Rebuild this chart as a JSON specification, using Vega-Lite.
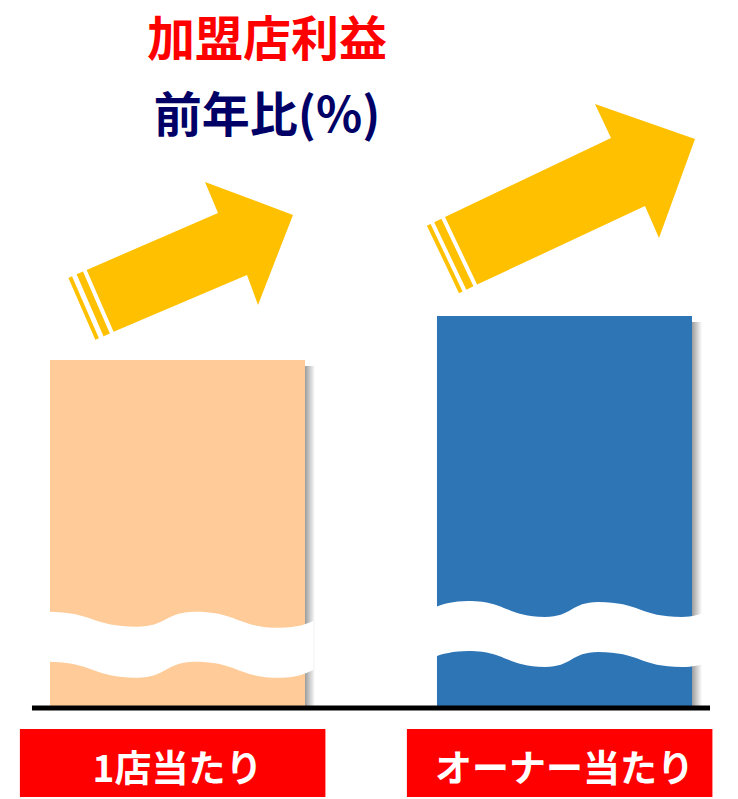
{
  "$schema": "https://vega.github.io/schema/vega-lite/v6.json",
  "width": 738,
  "height": 799,
  "autosize": {"type": "fit", "contains": "padding"},
  "padding": 0,
  "background": "white",
  "config": {"view": {"stroke": null}},
  "data": {"values": [
    {"cat": "1店当たり", "value": 99.3},
    {"cat": "オーナー当たり", "value": 111.8}
  ]},
  "layer": [
    {
      "mark": {"type": "bar", "xOffset": 10, "yOffset": 6,
        "fill": {"gradient": "linear", "x1": 0, "x2": 1, "y1": 0, "y2": 0,
          "stops": [{"offset": 0, "color": "#8a8a8a"}, {"offset": 0.955, "color": "#8e8e8e"}, {"offset": 1, "color": "#ffffff"}]}},
      "encoding": {
        "x": {"field": "cat", "type": "nominal", "sort": null, "axis": null,
          "scale": {"domain": ["1店当たり", "オーナー当たり"], "range": [2, 740], "paddingInner": 0.341, "paddingOuter": 0.124}},
        "y": {"field": "value", "type": "quantitative", "axis": null, "scale": {"domain": [-26, 202], "nice": false, "zero": false}},
        "y2": {"datum": 0}
      }
    },
    {
      "mark": {"type": "bar"},
      "encoding": {
        "x": {"field": "cat", "type": "nominal", "sort": null, "axis": null},
        "y": {"field": "value", "type": "quantitative", "axis": null},
        "y2": {"datum": 0},
        "color": {"field": "cat", "type": "nominal", "legend": null,
          "scale": {"domain": ["1店当たり", "オーナー当たり"], "range": ["#FFCC99", "#2E75B6"]}}
      }
    },
    {
      "transform": [{"filter": "datum.cat === '1店当たり'"}],
      "mark": {"type": "point", "filled": true, "opacity": 1, "color": "#ffffff", "size": 40000,
        "shape": "M-1.3,-0.33C-0.85,-0.33 -0.85,-0.18 -0.405,-0.18C-0.115,-0.18 -0.115,-0.33 0.175,-0.33C0.6,-0.33 0.6,-0.17 1.025,-0.17C1.2,-0.17 1.3,-0.21 1.36,-0.24L1.36,0.25C1.3,0.28 1.2,0.33 1.025,0.33C0.6,0.33 0.6,0.17 0.175,0.17C-0.115,0.17 -0.115,0.33 -0.405,0.33C-0.85,0.33 -0.85,0.17 -1.3,0.17Z"},
      "encoding": {
        "x": {"field": "cat", "type": "nominal", "sort": null, "axis": null},
        "y": {"datum": 18.0}
      }
    },
    {
      "transform": [{"filter": "datum.cat === 'オーナー当たり'"}],
      "mark": {"type": "point", "filled": true, "opacity": 1, "color": "#ffffff", "size": 40000,
        "shape": "M-1.3,-0.32C-1.24,-0.36 -1.1,-0.39 -0.965,-0.39C-0.58,-0.39 -0.58,-0.23 -0.195,-0.23C0.07,-0.23 0.07,-0.38 0.335,-0.38C0.755,-0.38 0.755,-0.23 1.175,-0.23C1.28,-0.23 1.36,-0.26 1.42,-0.28L1.42,0.23C1.36,0.25 1.28,0.27 1.175,0.27C0.755,0.27 0.755,0.12 0.335,0.12C0.07,0.12 0.07,0.27 -0.195,0.27C-0.58,0.27 -0.58,0.11 -0.965,0.11C-1.1,0.11 -1.24,0.14 -1.3,0.17Z"},
      "encoding": {
        "x": {"field": "cat", "type": "nominal", "sort": null, "axis": null},
        "y": {"datum": 19.4}
      }
    },
    {
      "transform": [{"filter": "datum.cat === '1店当たり'"}],
      "mark": {"type": "point", "filled": true, "opacity": 1, "color": "#FFC000", "size": 40000,
        "shape": "M-0.908,0.12L0.405,-0.45L0.275,-0.76L1.155,-0.43L0.805,0.47L0.695,0.17L-0.639,0.739Z M-0.945,0.136L-1.009,0.164L-0.74,0.783L-0.676,0.755Z M-1.055,0.184L-1.091,0.2L-0.822,0.819L-0.786,0.803Z"},
      "encoding": {
        "x": {"field": "cat", "type": "nominal", "sort": null, "axis": null},
        "y": {"datum": 128.4}
      }
    },
    {
      "transform": [{"filter": "datum.cat === 'オーナー当たり'"}],
      "mark": {"type": "point", "filled": true, "opacity": 1, "color": "#FFC000", "size": 40000,
        "shape": "M-1.195,0.18L0.465,-0.61L0.305,-0.95L1.305,-0.6L0.945,0.39L0.805,0.07L-0.874,0.855Z M-1.231,0.197L-1.303,0.232L-0.982,0.907L-0.91,0.872Z M-1.339,0.249L-1.376,0.266L-1.055,0.941L-1.019,0.924Z"},
      "encoding": {
        "x": {"field": "cat", "type": "nominal", "sort": null, "axis": null},
        "y": {"datum": 145.2}
      }
    },
    {
      "transform": [{"filter": "datum.cat === '1店当たり'"}],
      "mark": {"type": "rule", "color": "#000000", "strokeWidth": 5},
      "encoding": {
        "x": {"datum": "1店当たり", "type": "nominal", "bandPosition": -0.0706, "axis": null},
        "x2": {"datum": "オーナー当たり", "bandPosition": 1.0706},
        "y": {"datum": 0}
      }
    },
    {
      "mark": {"type": "rect", "color": "#FF0000"},
      "encoding": {
        "x": {"field": "cat", "type": "nominal", "sort": null, "bandPosition": -0.118, "axis": null},
        "x2": {"field": "cat", "bandPosition": 1.08},
        "y": {"datum": -6.0},
        "y2": {"datum": -25.4}
      }
    },
    {
      "mark": {"type": "text", "color": "#ffffff", "font": "Noto Sans CJK JP", "fontWeight": "bold", "fontSize": 37, "align": "center", "baseline": "middle"},
      "encoding": {
        "x": {"field": "cat", "type": "nominal", "sort": null, "axis": null},
        "y": {"datum": -18.0},
        "text": {"field": "cat"}
      }
    },
    {
      "data": {"values": [{"t": "加盟店利益"}]},
      "mark": {"type": "text", "color": "#FF0000", "font": "Noto Sans CJK JP", "fontWeight": "bold", "fontSize": 48, "align": "center", "baseline": "middle"},
      "encoding": {
        "x": {"datum": "1店当たり", "type": "nominal", "bandPosition": 0.851, "axis": null},
        "y": {"datum": 189.9},
        "text": {"field": "t"}
      }
    },
    {
      "data": {"values": [{"t": "前年比(%)"}]},
      "mark": {"type": "text", "color": "#000066", "font": "Noto Sans CJK JP", "fontWeight": "bold", "fontSize": 48, "align": "center", "baseline": "middle"},
      "encoding": {
        "x": {"datum": "1店当たり", "type": "nominal", "bandPosition": 0.851, "axis": null},
        "y": {"datum": 168.3},
        "text": {"field": "t"}
      }
    }
  ]
}
